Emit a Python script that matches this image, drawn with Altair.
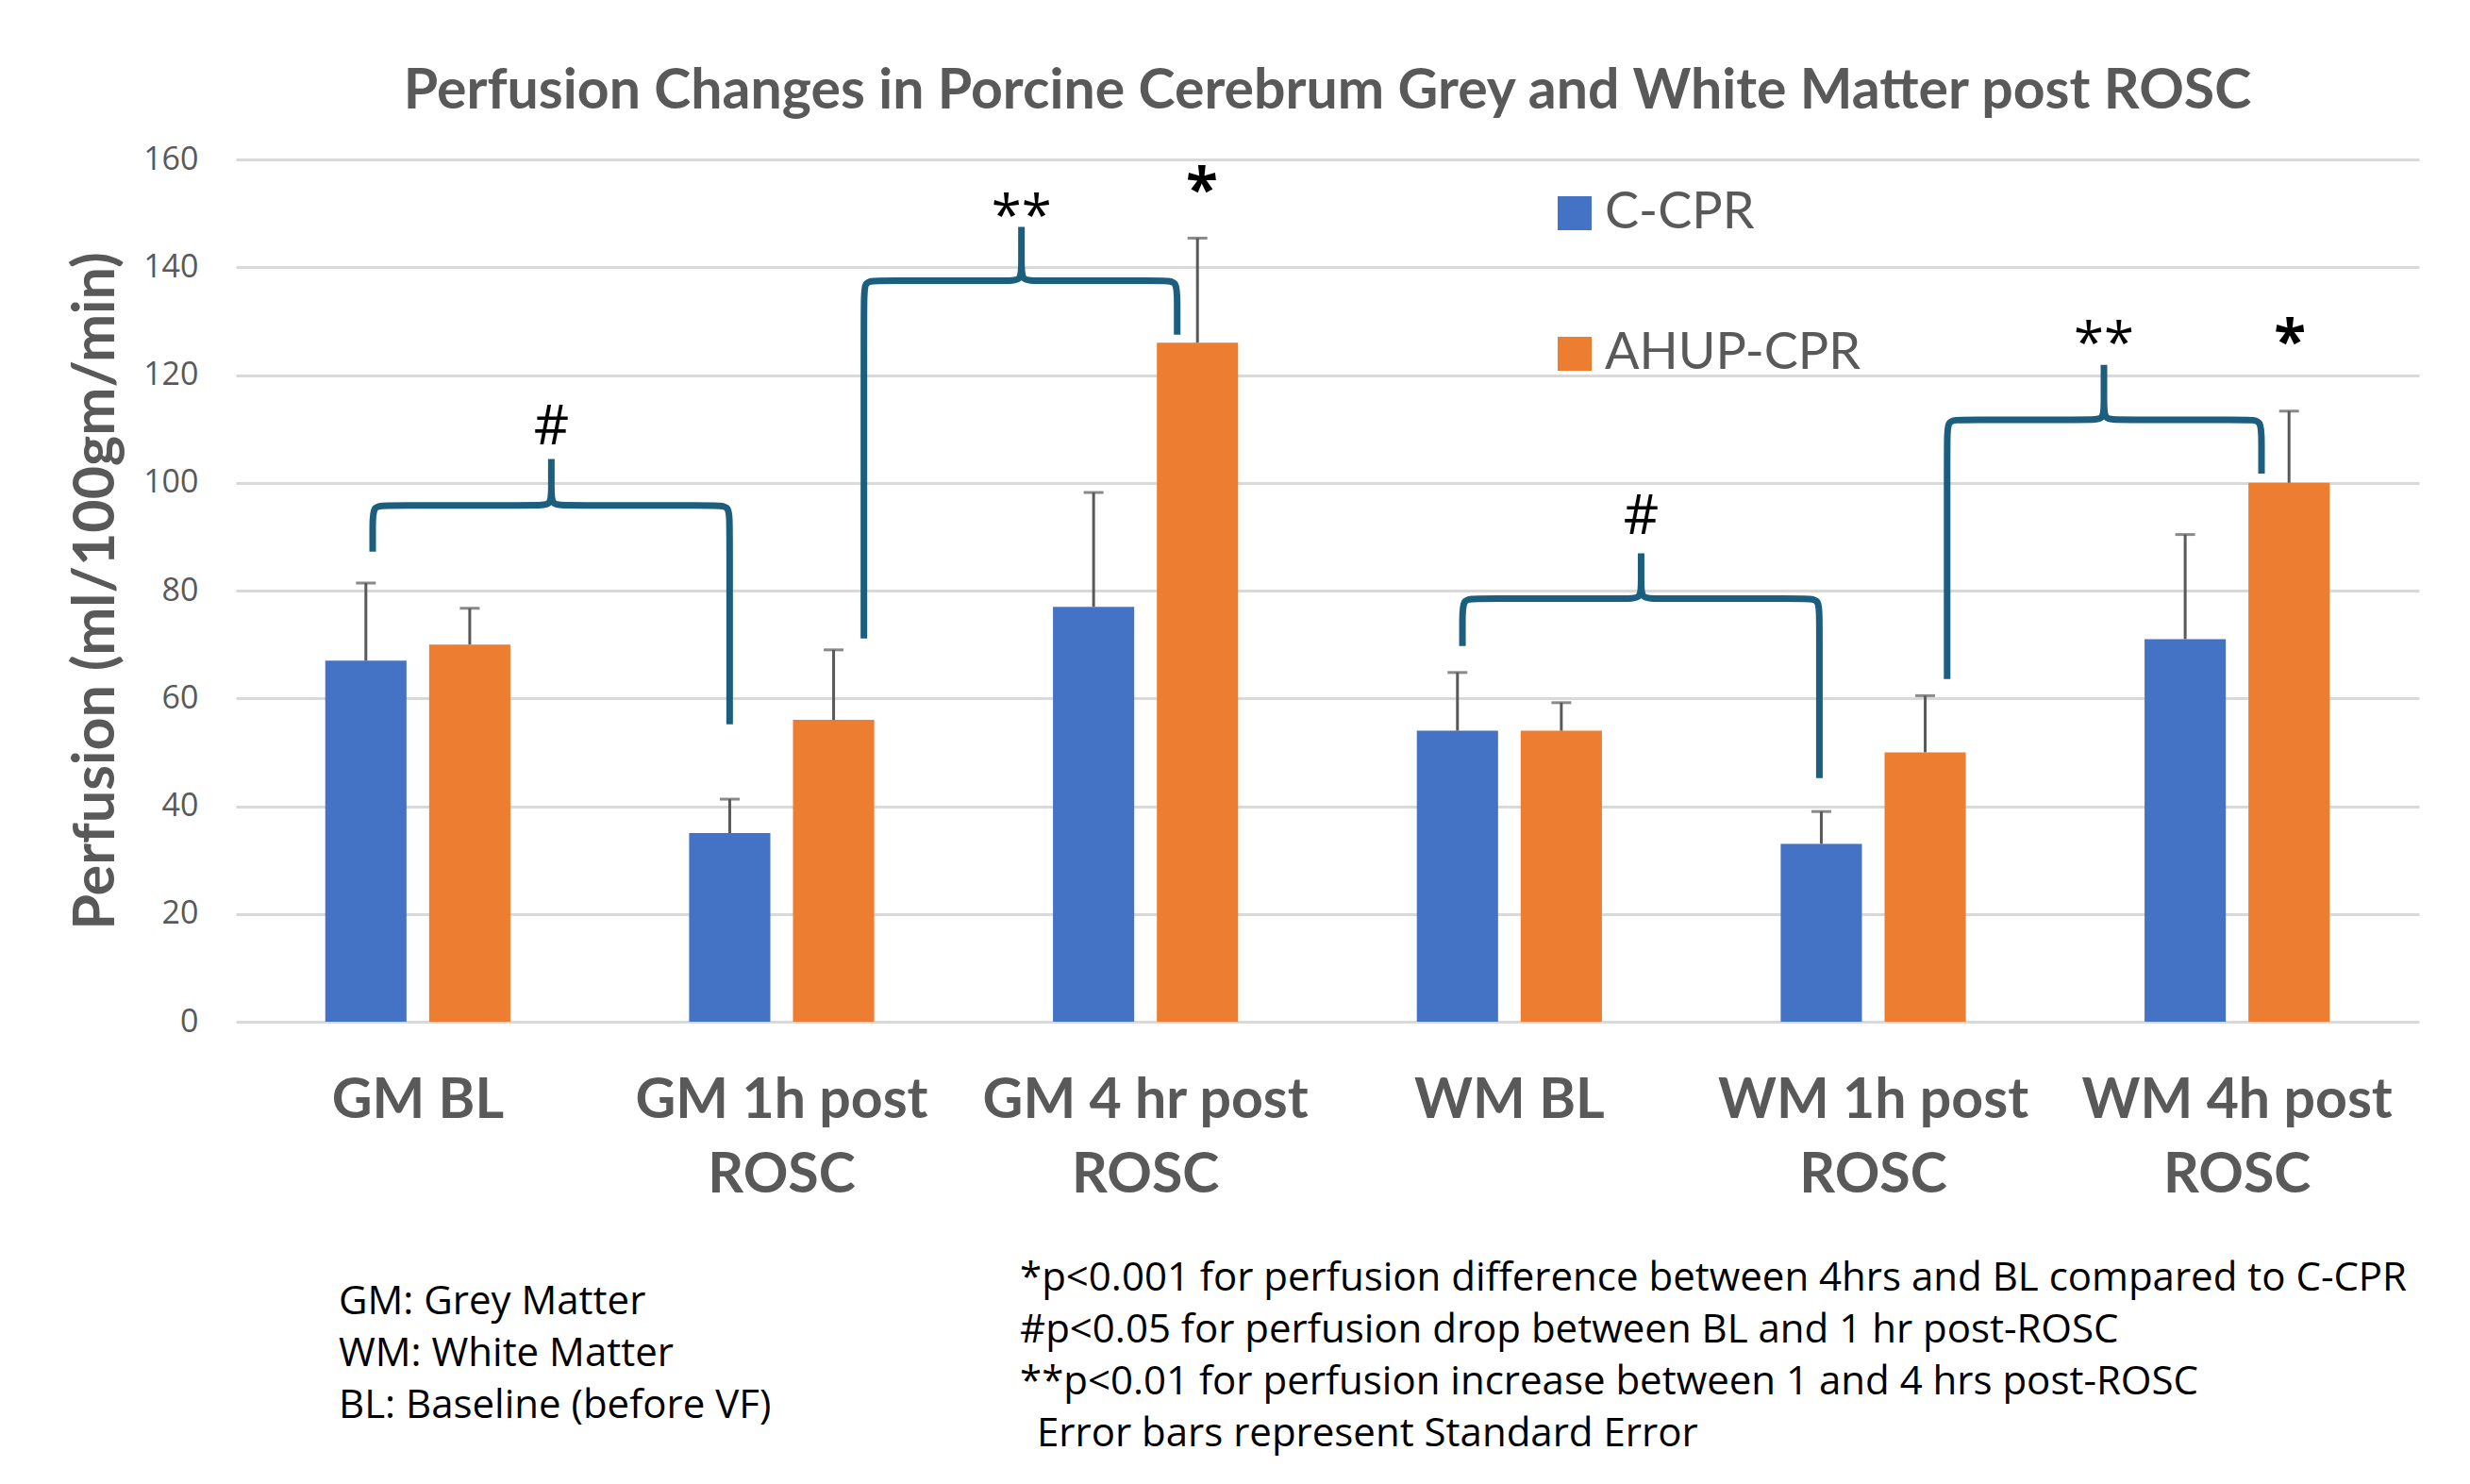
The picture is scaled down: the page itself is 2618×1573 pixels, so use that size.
import altair as alt
import pandas as pd

# ---------------- data ----------------
categories = ["GM BL", "GM 1h post ROSC", "GM 4 hr post ROSC",
              "WM BL", "WM 1h post ROSC", "WM 4h post ROSC"]
series = ["C-CPR", "AHUP-CPR"]
c_cpr = [67, 35, 77, 54, 33, 71]
c_cpr_se = [14.4, 6.3, 21.2, 10.8, 6.0, 19.4]
ahup_cpr = [70, 56, 126, 54, 50, 100]
ahup_cpr_se = [6.7, 13.0, 19.4, 5.2, 10.5, 13.3]
colors = ["#4472C4", "#ED7D31"]
y_ticks = [0, 20, 40, 60, 80, 100, 120, 140, 160]

# significance braces (x in category units, category i spans [i, i+1])
brace_x_left = [0.376, 1.726, 3.371, 4.703]
brace_x_mid = [0.867, 2.159, 3.862, 5.134]
brace_x_right = [1.357, 2.587, 4.352, 5.567]
brace_y_left = [87.2, 71.1, 69.7, 63.6]
brace_y_right = [55.2, 127.5, 45.2, 101.7]
brace_y_level = [95.8, 137.5, 78.5, 111.7]
brace_y_peak = [104.4, 147.5, 86.9, 121.9]

sig_labels = ["#", "**", "#", "**"]
sig_y = [107.2, 146.0, 90.5, 122.3]
star_labels = ["*", "*"]
star_x = [2.655, 5.645]
star_y = [150.5, 122.3]

title_text = "Perfusion Changes in Porcine Cerebrum Grey and White Matter post ROSC"
y_title = "Perfusion (ml/100gm/min)"
notes_left = ["GM: Grey Matter", "WM: White Matter", "BL: Baseline (before VF)"]
notes_right = ["*p<0.001 for perfusion difference between 4hrs and BL compared to C-CPR",
               "#p<0.05 for perfusion drop between BL and 1 hr post-ROSC",
               "**p<0.01 for perfusion increase between 1 and 4 hrs post-ROSC"]
note_error = "Error bars represent Standard Error"

# ---------------- tables ----------------
rows = []
for i, c in enumerate(categories):
    rows.append({"category": c, "series": series[0], "value": c_cpr[i], "upper": c_cpr[i] + c_cpr_se[i]})
    rows.append({"category": c, "series": series[1], "value": ahup_cpr[i], "upper": ahup_cpr[i] + ahup_cpr_se[i]})
bar_df = pd.DataFrame(rows)

cx, cy, cym = 0.035, 4.0, 3.2
brace_rows = []
for b in range(len(brace_x_left)):
    xl, xm, xr = brace_x_left[b], brace_x_mid[b], brace_x_right[b]
    yl, yr, h, p = brace_y_left[b], brace_y_right[b], brace_y_level[b], brace_y_peak[b]
    pts = [(xl, yl), (xl, h - cy), (xl, h), (xl + cx, h), (xm - cx, h), (xm, h), (xm, h + cym),
           (xm, p), (xm, p), (xm, p),
           (xm, h + cym), (xm, h), (xm + cx, h), (xr - cx, h), (xr, h), (xr, h - cy), (xr, yr)]
    for k, (px, py) in enumerate(pts):
        brace_rows.append({"brace": b, "i": k, "x": px, "y": py})
brace_df = pd.DataFrame(brace_rows)

sig_df = pd.DataFrame({"x": brace_x_mid, "y": sig_y, "t": sig_labels})
star_df = pd.DataFrame({"x": star_x, "y": star_y, "t": star_labels})
one = pd.DataFrame({"k": [0]})

GREY = "#595959"
W, H = 2314, 914

y_axis = alt.Axis(values=y_ticks, title=y_title, titleFont="Lato", titleFontSize=61,
                  titleFontWeight="bold", titleColor=GREY, titleAngle=-90, titleX=-148,
                  titleY=H / 2, titleAlign="center", titleBaseline="middle",
                  labelFont="Open Sans", labelFontSize=34, labelColor=GREY, labelPadding=40,
                  ticks=False, domain=False, grid=True, gridColor="#d9d9d9", gridWidth=3)
y_scale = alt.Scale(domain=[0, 160], nice=False)


def y_enc(field):
    return alt.Y(field, type="quantitative", scale=y_scale, axis=y_axis, title=y_title)


x_enc = alt.X("category:N", sort=categories,
              scale=alt.Scale(paddingInner=0.4913, paddingOuter=0.2457),
              axis=alt.Axis(title=None, labelFont="Lato", labelFontSize=59, labelFontWeight="bold",
                            labelColor=GREY, labelPadding=54, labelLineHeight=79, labelAngle=0,
                            labelLimit=0, ticks=False, domain=False, grid=False,
                            labelExpr="indexof(datum.label, ' ROSC') > 0 ? [replace(datum.label, ' ROSC', ''), 'ROSC'] : datum.label"))
xoff_enc = alt.XOffset("series:N", sort=series, scale=alt.Scale(paddingInner=0.218, paddingOuter=0))

base = alt.Chart(bar_df)
bars = base.mark_bar().encode(
    x=x_enc, xOffset=xoff_enc, y=y_enc("value"),
    color=alt.Color("series:N", sort=series, scale=alt.Scale(domain=series, range=colors),
                    legend=alt.Legend(title=None, orient="none", legendX=1392, legendY=30,
                                      symbolType="square", symbolSize=1296, symbolStrokeWidth=0,
                                      labelFont="Lato", labelFontSize=54, labelColor=GREY,
                                      labelLimit=0, rowPadding=95, labelOffset=5, padding=0)))
err_rule = base.mark_rule(color=GREY, strokeWidth=3).encode(
    x=x_enc, xOffset=xoff_enc, y=y_enc("value"), y2="upper:Q")
err_cap = base.mark_tick(color=GREY, thickness=3, size=21).encode(
    x=x_enc, xOffset=xoff_enc, y=y_enc("upper"))
layer_a = alt.layer(bars, err_rule, err_cap)

xq = alt.X("x:Q", scale=alt.Scale(domain=[0, 6], nice=False, zero=False), axis=None)
braces = alt.Chart(brace_df).mark_line(color="#1B5E7E", strokeWidth=7, interpolate="basis",
                                       strokeCap="butt").encode(
    x=xq, y=y_enc("y"), detail="brace:N", order="i:Q")
sig = alt.Chart(sig_df).mark_text(font="Open Sans", fontSize=58, color="black",
                                  baseline="alphabetic").encode(x=xq, y=y_enc("y"), text="t:N")
stars = alt.Chart(star_df).mark_text(font="Open Sans", fontSize=62, fontWeight="bold", color="black",
                                     baseline="alphabetic").encode(x=xq, y=y_enc("y"), text="t:N")
layer_b = alt.layer(braces, sig, stars)

NOTE_FS = 42
note_l = alt.Chart(one).mark_text(font="Open Sans", fontSize=NOTE_FS, color="black", align="left",
                                  baseline="alphabetic", lineHeight=55).encode(
    x=alt.value(109), y=alt.value(1224), text=alt.value(notes_left))
note_r = alt.Chart(one).mark_text(font="Open Sans", fontSize=NOTE_FS, color="black", align="left",
                                  baseline="alphabetic", lineHeight=55).encode(
    x=alt.value(831), y=alt.value(1199), text=alt.value(notes_right))
note_e = alt.Chart(one).mark_text(font="Open Sans", fontSize=NOTE_FS, color="black", align="left",
                                  baseline="alphabetic").encode(
    x=alt.value(849), y=alt.value(1364), text=alt.value(note_error))

chart = alt.layer(layer_a, layer_b, note_l, note_r, note_e).resolve_scale(x="independent").properties(
    width=W, height=H,
    title=alt.TitleParams(text=title_text, font="Lato", fontSize=59, fontWeight="bold", color=GREY,
                          anchor="middle", offset=-22, baseline="alphabetic"),
    autosize="none",
    padding={"left": 242, "top": 161, "right": 40, "bottom": 470},
    background="white",
).configure_view(stroke=None)

chart.save("out.html", embed_options={"renderer": "svg", "actions": False})
